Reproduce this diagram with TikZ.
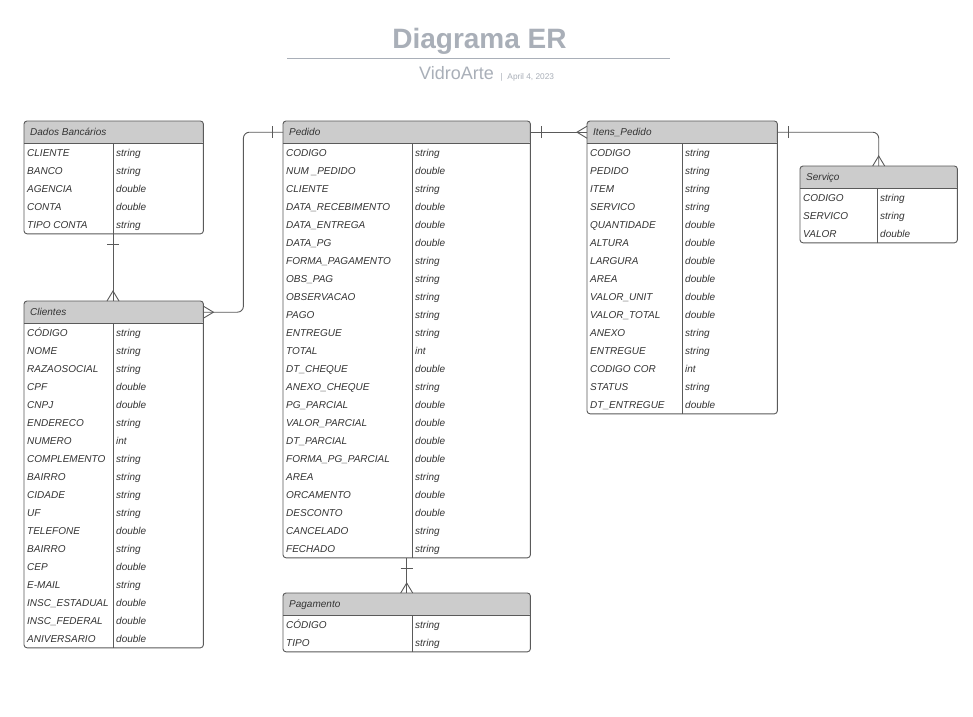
\documentclass[tikz,border=0pt]{standalone}
\usepackage{fontspec}
\setmainfont{Liberation Sans}
\usetikzlibrary{calc}

\definecolor{erline}{HTML}{5A5A5A}
\definecolor{erhead}{HTML}{CCCCCC}
\definecolor{ertext}{HTML}{333333}
\definecolor{ertitle}{HTML}{A9AFB8}

% crow's foot (many) and bar (one)
\pgfdeclarearrow{
  name = crowsfoot,
  setup code = {
    \pgfarrowssettipend{0pt}
    \pgfarrowssetlineend{0pt}
    \pgfarrowssetbackend{-10pt}
    \pgfarrowssetvisualbackend{-10pt}
    \pgfarrowsupperhullpoint{0pt}{6pt}
    \pgfarrowsupperhullpoint{-10pt}{0pt}
  },
  drawing code = {
    \pgfpathmoveto{\pgfpoint{0pt}{6pt}}
    \pgfpathlineto{\pgfpoint{-10pt}{0pt}}
    \pgfpathlineto{\pgfpoint{0pt}{-6pt}}
    \pgfusepathqstroke
  }
}
\pgfdeclarearrow{
  name = onebar,
  setup code = {
    \pgfarrowssettipend{0pt}
    \pgfarrowssetlineend{0pt}
    \pgfarrowssetbackend{-11pt}
    \pgfarrowssetvisualbackend{-11pt}
    \pgfarrowsupperhullpoint{-11pt}{6pt}
  },
  drawing code = {
    \pgfpathmoveto{\pgfpoint{-11pt}{6pt}}
    \pgfpathlineto{\pgfpoint{-11pt}{-6pt}}
    \pgfusepathqstroke
  }
}

% #1 name, #2 x, #3 y, #4 width, #5 first column, #6 rows, #7 title, #8 fields
\newcommand{\ertable}[8]{%
  \node[er-head, minimum width=#4, anchor=north west] (#1) at (#2,#3) {};
  \node[er-body, minimum width=#4, minimum height=18*#6, anchor=north west] (#1-body) at (#1.south west) {};
  \fill[erhead] (#1.south west) [rounded corners=3] -- (#1.north west) -- (#1.north east) -- (#1.south east) [sharp corners] -- cycle;
  \node[er-text, anchor=base west] (#1-title) at ([xshift=6,yshift=-14.5]#1.north west) {#7};
  \foreach \f/\t [count=\i] in {#8} {
    \node[er-text, anchor=base west] (#1-f\i) at ([xshift=3,yshift=-18*\i+5.2]#1-body.north west) {\f};
    \node[er-text, anchor=base west] (#1-t\i) at ([xshift=#5+3,yshift=-18*\i+5.2]#1-body.north west) {\t};
  }
  \draw[er-border] (#1.south west) -- (#1.south east);
  \draw[er-border] ([xshift=#5]#1-body.north west) -- ([xshift=#5]#1-body.south west);
  \draw[er-border, rounded corners=3] (#1.north west) rectangle (#1-body.south east);
}

\begin{document}
\begin{tikzpicture}[x=1pt, y=-1pt]
    \tikzset{
        er-head/.style={rectangle, inner sep=0, minimum height=22},
        er-body/.style={rectangle, inner sep=0},
        er-text/.style={inner sep=0, text=ertext, font=\fontsize{10}{12}\selectfont\itshape},
        er-border/.style={draw=erline, line width=0.9},
        er-link/.style={draw=erline, line width=0.9, rounded corners=6},
    }
    \fill[white] (0,0) rectangle (973,716);
    \useasboundingbox (0,0) rectangle (973,716);

    % title block
    \node[text=ertitle, font=\fontsize{28}{32}\selectfont\bfseries] (title) at (479.5,41) {Diagrama ER};
    \draw[ertitle, line width=0.9] (287,58) -- (670,58);
    \node[text=ertitle, font=\fontsize{18}{21}\selectfont, anchor=base west, inner sep=0] (subtitle) at (419,79) {VidroArte};
    \node[text=ertitle, font=\fontsize{8.3}{10}\selectfont, anchor=base west, inner sep=0] (date) at ([xshift=6]subtitle.base east) {|\hspace{5pt}April 4, 2023};

    % tables
    \ertable{dados}{24}{121}{179}{89}{5}{Dados Bancários}{CLIENTE/string, BANCO/string, AGENCIA/double, CONTA/double, TIPO CONTA/string}
    \ertable{clientes}{24}{301}{179}{89}{18}{Clientes}{CÓDIGO/string, NOME/string, RAZAOSOCIAL/string, CPF/double, CNPJ/double, ENDERECO/string, NUMERO/int, COMPLEMENTO/string, BAIRRO/string, CIDADE/string, UF/string, TELEFONE/double, BAIRRO/string, CEP/double, E-MAIL/string, INSC\_ESTADUAL/double, INSC\_FEDERAL/double, ANIVERSARIO/double}
    \ertable{pedido}{283}{121}{247}{129}{23}{Pedido}{CODIGO/string, NUM \_PEDIDO/double, CLIENTE/string, DATA\_RECEBIMENTO/double, DATA\_ENTREGA/double, DATA\_PG/double, FORMA\_PAGAMENTO/string, OBS\_PAG/string, OBSERVACAO/string, PAGO/string, ENTREGUE/string, TOTAL/int, DT\_CHEQUE/double, ANEXO\_CHEQUE/string, PG\_PARCIAL/double, VALOR\_PARCIAL/double, DT\_PARCIAL/double, FORMA\_PG\_PARCIAL/double, AREA/string, ORCAMENTO/double, DESCONTO/double, CANCELADO/string, FECHADO/string}
    \ertable{itens}{587}{121}{190}{95}{15}{Itens\_Pedido}{CODIGO/string, PEDIDO/string, ITEM/string, SERVICO/string, QUANTIDADE/double, ALTURA/double, LARGURA/double, AREA/double, VALOR\_UNIT/double, VALOR\_TOTAL/double, ANEXO/string, ENTREGUE/string, CODIGO COR/int, STATUS/string, DT\_ENTREGUE/double}
    \ertable{servico}{800}{166}{157}{77}{3}{Serviço}{CODIGO/string, SERVICO/string, VALOR/double}
    \ertable{pagamento}{283}{593}{247}{129}{2}{Pagamento}{CÓDIGO/string, TIPO/string}

    % relationships
    \draw[er-link, onebar-crowsfoot] ([xshift=89]dados-body.south west) -- ([xshift=89]clientes.north west);
    \draw[er-link, crowsfoot-onebar] (clientes.east) -- ++(40,0) |- (pedido.west);
    \draw[er-link, onebar-crowsfoot] (pedido.east) -- (itens.west);
    \draw[er-link, onebar-crowsfoot] (itens.east) -| (servico.north);
    \draw[er-link, onebar-crowsfoot] (pedido-body.south) -- (pagamento.north);
\end{tikzpicture}
\end{document}
